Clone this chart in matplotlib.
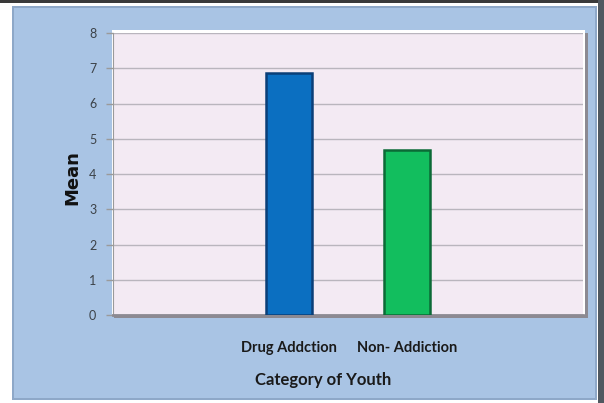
import numpy as np
import matplotlib.pyplot as plt
from matplotlib.patches import Rectangle

# data
categories = ['Drug Addction', 'Non- Addiction']
means = [6.87, 4.69]
bar_colors = ['#0B6FC1', '#12BE5E']
edge_colors = ['#0A3F78', '#0B6A36']
y_ticks = [0, 1, 2, 3, 4, 5, 6, 7, 8]

W, H = 604, 403
fig = plt.figure(figsize=(W / 100, H / 100), dpi=100, facecolor='white')

# background layer in pixel coords, y measured from the top
bg = fig.add_axes([0, 0, 1, 1], zorder=-1)
bg.set_xlim(0, W)
bg.set_ylim(H, 0)
bg.axis('off')

def px_rect(x0, y0, x1, y1, color):
    bg.add_patch(Rectangle((x0, y0), x1 - x0, y1 - y0, facecolor=color,
                           edgecolor='none'))

# outer frame and blue chart panel
px_rect(0, 0, W, 3, '#3a3a3a')
px_rect(598, 0, W, H, '#505860')
px_rect(12, 6, 597, 400, '#8EA8C8')
px_rect(14, 8, 595, 398, '#A9C4E4')

# plot area bevel: shadow on the right and bottom, white top edge
px_rect(114, 33, 588, 318, '#8C8A92')
px_rect(112, 30, 585, 315, '#FFFFFF')

ax = fig.add_axes([113 / W, (H - 315) / H, 470 / W, 282 / H])
ax.set_facecolor('#F3EAF3')

x = np.arange(len(categories))
ax.bar(x, means, width=0.39, color=bar_colors, edgecolor=edge_colors,
       linewidth=1.8, zorder=3)

ax.set_xlim(-1.5, 2.5)
ax.set_ylim(0, 8)
ax.set_yticks(y_ticks)
ax.yaxis.grid(True, color='#B9B5BD', linewidth=1.0, zorder=0)
ax.set_axisbelow(True)

ax.set_xticks(x)
ax.set_xticklabels(categories, family='Lato', fontweight='bold',
                   fontsize=10.5, color='#1a1a1a')
ax.tick_params(axis='x', length=0, pad=19)
ax.tick_params(axis='y', length=5, color='#9A9A9A', width=1,
               labelsize=9, labelcolor='#3c4248', pad=7)
for lbl in ax.get_yticklabels():
    lbl.set_family('Lato')

for side in ['top', 'right']:
    ax.spines[side].set_visible(False)
ax.spines['left'].set_color('#9A9A9A')
ax.spines['bottom'].set_color('#8C8A92')
ax.spines['bottom'].set_linewidth(2)

fig.text(323 / W, 1 - 380 / H, 'Category of Youth', ha='center', va='center',
         family='Lato', fontweight='bold', fontsize=12, color='#1a1a1a')
fig.text(72 / W, 1 - 178 / H, 'Mean', ha='center', va='center', rotation=90,
         family='DejaVu Sans', fontweight='bold', fontsize=13, color='#111111')

fig.savefig('out.png', dpi=100, facecolor='white')
